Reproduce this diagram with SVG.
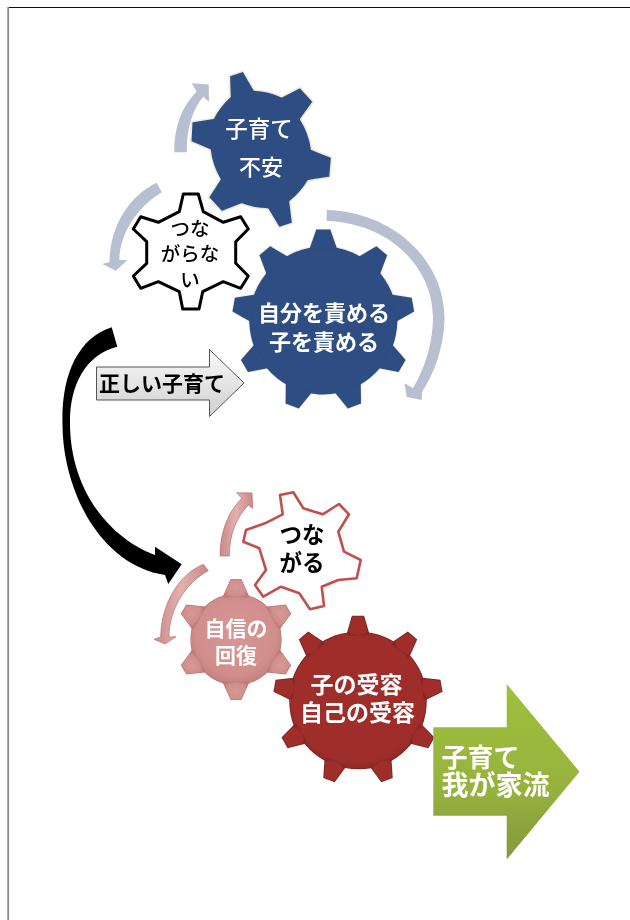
<svg xmlns="http://www.w3.org/2000/svg" xmlns:xlink="http://www.w3.org/1999/xlink" width="630" height="920" viewBox="0 0 630 920">
<style>
text{font-family:"Noto Sans CJK JP","Noto Sans",sans-serif;text-anchor:middle;dominant-baseline:central}
.w{fill:#fff}.b{font-weight:700}.k{fill:#000}
.blue{fill:#2D4D82}
.halo{stroke:#EFEBDC;stroke-width:1.6;stroke-linejoin:round}
.sl{fill:#B8BFD0}
.pk{fill:url(#pinkArrow);stroke:#B87070;stroke-width:.7}
</style>
<defs>
<filter id="soft" x="-5%" y="-5%" width="110%" height="110%"><feGaussianBlur stdDeviation="0.45"/></filter>
<linearGradient id="grayG" x1="0" y1="0" x2="0" y2="1"><stop offset="0" stop-color="#FAFAFA"/><stop offset="1" stop-color="#CFCFCF"/></linearGradient>
<linearGradient id="greenG" x1="0" y1="0" x2="0" y2="1"><stop offset="0" stop-color="#9FC03C"/><stop offset=".6" stop-color="#96B23E"/><stop offset="1" stop-color="#85983A"/></linearGradient>
<linearGradient id="pinkArrow" x1="0" y1="0" x2="1" y2="0"><stop offset="0" stop-color="#C98A88"/><stop offset=".5" stop-color="#E2B0AE"/><stop offset="1" stop-color="#C98A88"/></linearGradient>
<radialGradient id="redG" cx=".5" cy=".45" r=".6"><stop offset="0" stop-color="#9F2F2B"/><stop offset=".8" stop-color="#9F2F2B"/><stop offset="1" stop-color="#872723"/></radialGradient>
<radialGradient id="pinkG" cx=".5" cy=".45" r=".6"><stop offset="0" stop-color="#D69896"/><stop offset=".75" stop-color="#D08D8B"/><stop offset="1" stop-color="#BE7A78"/></radialGradient>
<polygon id="t9" points="-14,-71 -7,-91 7,-91 14,-71"/>
<polygon id="t6" points="-13,-42 -5,-60 5,-60 13,-42"/>
<polygon id="t9r" points="-11,-65 -5.5,-84 5.5,-84 11,-65"/>
<g id="gear3">
<circle r="74"/>
<use xlink:href="#t9"/><use xlink:href="#t9" transform="rotate(40)"/><use xlink:href="#t9" transform="rotate(80)"/><use xlink:href="#t9" transform="rotate(120)"/><use xlink:href="#t9" transform="rotate(160)"/><use xlink:href="#t9" transform="rotate(200)"/><use xlink:href="#t9" transform="rotate(240)"/><use xlink:href="#t9" transform="rotate(280)"/><use xlink:href="#t9" transform="rotate(320)"/>
</g>
<g id="gear5">
<circle r="45"/>
<use xlink:href="#t6"/><use xlink:href="#t6" transform="rotate(60)"/><use xlink:href="#t6" transform="rotate(120)"/><use xlink:href="#t6" transform="rotate(180)"/><use xlink:href="#t6" transform="rotate(240)"/><use xlink:href="#t6" transform="rotate(300)"/>
</g>
<g id="gear6">
<circle r="68"/>
<use xlink:href="#t9r"/><use xlink:href="#t9r" transform="rotate(40)"/><use xlink:href="#t9r" transform="rotate(80)"/><use xlink:href="#t9r" transform="rotate(120)"/><use xlink:href="#t9r" transform="rotate(160)"/><use xlink:href="#t9r" transform="rotate(200)"/><use xlink:href="#t9r" transform="rotate(240)"/><use xlink:href="#t9r" transform="rotate(280)"/><use xlink:href="#t9r" transform="rotate(320)"/>
</g>
</defs>
<rect width="630" height="920" fill="#fff"/>
<g id="page-border">
<line x1="8" y1="7.5" x2="630" y2="7.5" stroke="#111" stroke-width="1.2"/>
<line x1="8.2" y1="7" x2="8.2" y2="920" stroke="#8A8A8A" stroke-width="1.8"/>
</g>
<g filter="url(#soft)">
<g id="connectors">
<path class="sl" d="M174.3 152.3C174 125 183 105 196.7 91.7L191.7 83.3L208.7 84.5L209 101.7L203.3 96.7C193 108 186.5 128 186.7 152.3Z"/>
<path class="sl" d="M156.7 182.7C130 195 110 225 109.5 262L102.3 264L116 270.7L127.3 260L119.3 260C120 232 138 207 161.7 192.3Z"/>
<path class="sl" d="M326.7 210C395 212 444.5 262 444.5 317C444.5 345 435 372 422 392L421.7 400L406.7 397L404.3 383.3L413 388C425 368 433 343 433 317C433 268 390 223 326.7 221Z"/>
<path d="M111.7 327.3C78 338 61 375 62.5 425C63 490 100 565 165 575L168.3 584L181.7 564.3L155 546.7L155 555C110 538 69 490 70 420C70.5 385 85 355 117.3 346.7Z" fill="#000"/>
<path class="pk" d="M220 556C220 532 228 512 241.7 498.3L236.7 492.7L252 493L252.7 508.3L248.3 505C236 518 229.3 535 229.3 556Z"/>
<path class="pk" d="M203.3 564.3C178 575 161 605 160.7 637L154 639.3L165 644L176 636.7L169 637C169 610 185 583 208.3 570.7Z"/>
</g>
<g id="gear-anxiety">
<path class="blue halo" d="M230 96.7L229.3 75.7L243.3 71L254.3 90A75 75 0 0 1 281.7 96.7L300 87.3L313.3 101.7L300.7 119.3A75 75 0 0 1 311.7 149.3L331.7 157.3L330 177.3L308.3 180.7A75 75 0 0 1 290 201.7L292.7 223.3L279 227.7L267.7 209A75 75 0 0 1 241.7 204L221.7 211.7L208.3 197.3L220 179.3A75 75 0 0 1 210 150L190.7 141.7L191.7 121.7L213.3 118.3A75 75 0 0 1 230 96.7Z"/>
<text class="w" x="259" y="127" font-size="22.5" font-weight="500">子育て</text>
<text class="w" x="261" y="165" font-size="22" font-weight="500">不安</text>
</g>
<g id="gear-disconnected">
<path d="M183.3 194L198.3 194L203.3 211.7L223.3 222.3L240.7 216.7L248.3 229L235.7 241.7L235.7 263.3L248.3 276L240.7 288.3L223.3 281.7L202.7 291.7L199 309L182.7 309L179.3 291.7L158.3 281.7L140.7 288.3L133.3 276L146.7 263.3L146.7 241.7L133.3 229L140.7 216.7L158.3 222.3L179.3 211.7Z" fill="#fff" stroke="#000" stroke-width="3" stroke-linejoin="round"/>
<text class="k" x="190" y="227" font-size="19.5" font-weight="500">つな</text>
<text class="k" x="190" y="252" font-size="19.5" font-weight="500">がらな</text>
<text class="k" x="190" y="278" font-size="19.5" font-weight="500">い</text>
</g>
<g id="gear-blame">
<use xlink:href="#gear3" x="323.3" y="320.5" style="fill:#EFEBDC;stroke:#EFEBDC;stroke-width:1.6"/>
<use xlink:href="#gear3" class="blue" x="323.3" y="320.5"/>
<text class="w b" x="324" y="311" font-size="22">自分を責める</text>
<text class="w b" x="324" y="340" font-size="22">子を責める</text>
</g>
<g id="arrow-correct">
<polygon points="96.5,367 209.5,367 209.5,349.5 244,383 209.5,416.5 209.5,400 96.5,400" fill="url(#grayG)" stroke="#555" stroke-width="1"/>
<text class="k b" x="162" y="381.5" font-size="21">正しい子育て</text>
</g>
<g id="gear-connected">
<path d="M246 530L243.3 541.7L259.3 548.3L266 570L255 585L263.3 596.7L281 586.7L299.3 593.3L310 609.3L324 606L321.7 586.7L338.3 580L356.7 578.3L360.7 560L344 551.7L338.3 531.7L349 514.3L339 504L322.7 514.3L303.3 508.3L293.3 492.3L280 495L282.7 514.3L265 523.3Z" fill="#fff" stroke="#C0504D" stroke-width="2.6" stroke-linejoin="round"/>
<text class="k b" x="302" y="533" font-size="22.5">つな</text>
<text class="k b" x="302" y="561" font-size="22.5">がる</text>
</g>
<g id="gear-confidence">
<use xlink:href="#gear5" x="236" y="639.5" style="fill:#B87472;stroke:#B87472;stroke-width:1.2"/>
<use xlink:href="#gear5" x="236" y="639.5" fill="url(#pinkG)"/>
<text class="w b" x="236" y="626.5" font-size="21">自信の</text>
<text class="w b" x="236" y="653.5" font-size="21">回復</text>
</g>
<g id="gear-acceptance">
<use xlink:href="#gear6" x="358" y="700.5" style="fill:#7A2421;stroke:#7A2421;stroke-width:1.6"/>
<use xlink:href="#gear6" x="358" y="700.5" fill="url(#redG)"/>
<text class="w b" x="356.5" y="683" font-size="23">子の受容</text>
<text class="w b" x="357.5" y="711" font-size="23">自己の受容</text>
</g>
<g id="arrow-result">
<polygon points="433.3,727.3 506.7,727.3 506.7,684 579.5,771.7 506.7,859.5 506.7,815.7 433.3,815.7" fill="url(#greenG)"/>
<text class="w b" x="480.5" y="755" font-size="26">子育て</text>
<text class="w b" x="495.5" y="783" font-size="27">我が家流</text>
</g>
</g>
</svg>
